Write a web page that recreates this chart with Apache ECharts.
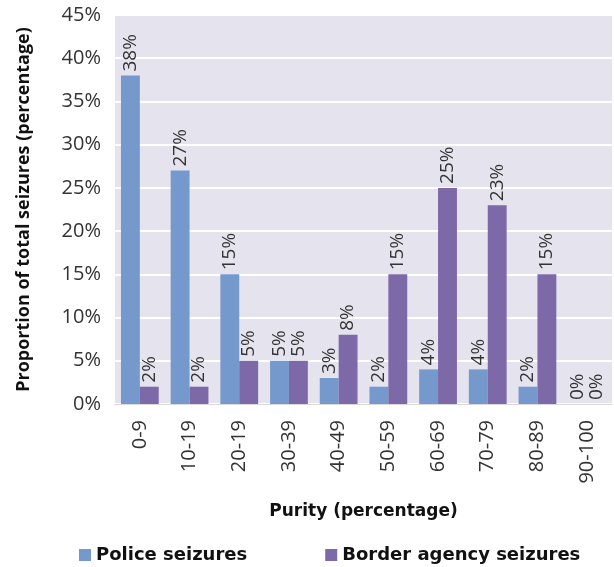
<!DOCTYPE html>
<html>
<head>
<meta charset="utf-8">
<script src="https://cdn.jsdelivr.net/npm/echarts@6/dist/echarts.min.js"></script>
<style>
  html, body { margin: 0; padding: 0; background: #fff; }
  #chart { width: 614px; height: 567px; }
</style>
</head>
<body>
<div id="chart"></div>
<script>
const categories = ['0-9', '10-19', '20-19', '30-39', '40-49', '50-59', '60-69', '70-79', '80-89', '90-100'];
const policeSeizures = [38, 27, 15, 5, 3, 2, 4, 4, 2, 0];
const borderSeizures = [2, 2, 5, 5, 8, 15, 25, 23, 15, 0];

const font = '"Open Sans", "DejaVu Sans", sans-serif';
const boldFont = '"DejaVu Sans", sans-serif';

const barLabel = {
  show: true,
  position: 'top',
  rotate: 90,
  align: 'left',
  verticalAlign: 'middle',
  distance: 4,
  formatter: '{c}%',
  color: '#333',
  fontSize: 19,
  fontFamily: font
};

const chart = echarts.init(document.getElementById('chart'));
chart.setOption({
  animation: false,
  textStyle: { fontFamily: font },
  grid: {
    left: 115, right: 2, top: 15, bottom: 163,
    show: true, backgroundColor: '#e4e3ee', borderWidth: 0
  },
  legend: {
    top: 541, left: 74,
    itemWidth: 12, itemHeight: 12, itemGap: 78,
    icon: 'rect',
    textStyle: { fontSize: 18, fontWeight: 'bold', color: '#111', fontFamily: boldFont },
    data: ['Police seizures', 'Border agency seizures']
  },
  xAxis: {
    type: 'category',
    data: categories,
    name: 'Purity (percentage)',
    nameLocation: 'middle',
    nameGap: 99,
    nameTextStyle: { fontSize: 17, fontWeight: 'bold', color: '#111', fontFamily: boldFont },
    axisLine: { show: true, lineStyle: { color: '#d9d9d9' } },
    axisTick: { show: false },
    axisLabel: { rotate: 90, fontSize: 20, color: '#333', margin: 16 }
  },
  yAxis: {
    type: 'value',
    min: 0, max: 45, interval: 5,
    name: 'Proportion of total seizures (percentage)',
    nameLocation: 'middle',
    nameGap: 82,
    nameTextStyle: { fontSize: 18, fontWeight: 'bold', color: '#111' },
    axisLine: { show: false },
    axisTick: { show: false },
    axisLabel: { formatter: '{value}%', fontSize: 20, color: '#333', margin: 14 },
    splitLine: { lineStyle: { color: '#ffffff', width: 2 } }
  },
  series: [
    {
      name: 'Police seizures',
      type: 'bar',
      data: policeSeizures,
      barGap: '0%',
      barCategoryGap: '24%',
      itemStyle: { color: '#7599cc' },
      label: barLabel
    },
    {
      name: 'Border agency seizures',
      type: 'bar',
      data: borderSeizures,
      itemStyle: { color: '#7d68a8' },
      label: barLabel
    }
  ]
});
</script>
</body>
</html>
